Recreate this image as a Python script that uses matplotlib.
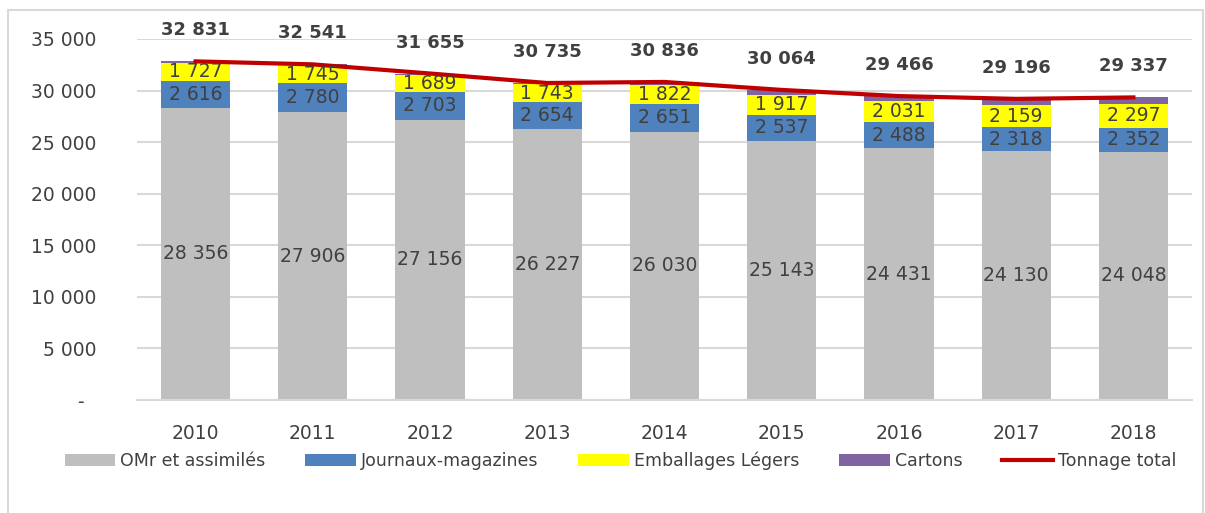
import matplotlib
matplotlib.use("Agg")
import matplotlib.pyplot as plt
from matplotlib.patches import Rectangle
from matplotlib.ticker import FuncFormatter

years = ["2010", "2011", "2012", "2013", "2014", "2015", "2016", "2017", "2018"]
omr = [28356, 27906, 27156, 26227, 26030, 25143, 24431, 24130, 24048]
journaux = [2616, 2780, 2703, 2654, 2651, 2537, 2488, 2318, 2352]
emballages = [1727, 1745, 1689, 1743, 1822, 1917, 2031, 2159, 2297]
total = [32831, 32541, 31655, 30735, 30836, 30064, 29466, 29196, 29337]
cartons = [t - a - b - c for t, a, b, c in zip(total, omr, journaux, emballages)]

C_OMR = "#BFBFBF"
C_JOUR = "#4F81BD"
C_EMB = "#FFFF00"
C_CART = "#8064A2"
C_TOT = "#C00000"
TXT = "#404040"
GRID = "#D9D9D9"

plt.rcParams['font.family'] = ['DejaVu Sans']

def fmt(v):
    return f"{int(round(v)):,}".replace(",", " ")

fig = plt.figure(figsize=(12.05, 5.13), dpi=100)
ax = fig.add_axes([137/1205, 113/513, 1055/1205, 361/513])

x = list(range(len(years)))
w = 0.59
b1 = ax.bar(x, omr, w, color=C_OMR, label="OMr et assimilés", zorder=2)
bot2 = omr
b2 = ax.bar(x, journaux, w, bottom=bot2, color=C_JOUR, label="Journaux-magazines", zorder=2)
bot3 = [a + b for a, b in zip(omr, journaux)]
b3 = ax.bar(x, emballages, w, bottom=bot3, color=C_EMB, label="Emballages Légers", zorder=2)
bot4 = [a + b for a, b in zip(bot3, emballages)]
b4 = ax.bar(x, cartons, w, bottom=bot4, color=C_CART, label="Cartons", zorder=2)
ln, = ax.plot(x, total, color=C_TOT, lw=3, label="Tonnage total", zorder=3)

fs = 13.5
for i in x:
    ax.text(i, omr[i] / 2, fmt(omr[i]), ha="center", va="center", fontsize=fs, color=TXT, zorder=4)
    ax.text(i, bot2[i] + journaux[i] / 2, fmt(journaux[i]), ha="center", va="center", fontsize=fs, color=TXT, zorder=4)
    ax.text(i, bot3[i] + emballages[i] / 2, fmt(emballages[i]), ha="center", va="center", fontsize=fs, color=TXT, zorder=4)
    ax.annotate(fmt(total[i]), (i, total[i]), xytext=(0, 22.3), textcoords="offset points",
                ha="center", va="center", fontsize=13, fontweight="bold", color=TXT,
                annotation_clip=False, zorder=5)

ax.set_xlim(-0.5, len(years) - 0.5)
ax.set_ylim(0, 35000)
ax.set_yticks(range(0, 35001, 5000))
ax.yaxis.set_major_formatter(FuncFormatter(lambda v, p: "-  " if v == 0 else fmt(v)))
ax.set_xticks(x)
ax.set_xticklabels(years)
ax.tick_params(axis="y", length=0, pad=29, labelsize=fs, labelcolor=TXT)
ax.tick_params(axis="x", length=0, pad=17, labelsize=fs, labelcolor=TXT)
ax.grid(axis="y", color=GRID, lw=1.5, zorder=0)
ax.set_axisbelow(True)
for s in ["top", "right", "left"]:
    ax.spines[s].set_visible(False)
ax.spines["bottom"].set_color(GRID)
ax.spines["bottom"].set_linewidth(1.5)

fig.legend(handles=[b1, b2, b3, b4, ln], loc="center", bbox_to_anchor=(0.515, 1 - 461/513),
           ncol=5, frameon=False, fontsize=12.5, handlelength=2.9, handleheight=0.7,
           columnspacing=2.3, handletextpad=0.3, labelcolor=TXT)

fig.patches.append(Rectangle((8/1205, -0.05), 1195/1205, (1 + 0.05) - 10/513,
                             transform=fig.transFigure, fill=False, edgecolor=GRID, lw=1.5))

fig.savefig("out.png", dpi=100)
